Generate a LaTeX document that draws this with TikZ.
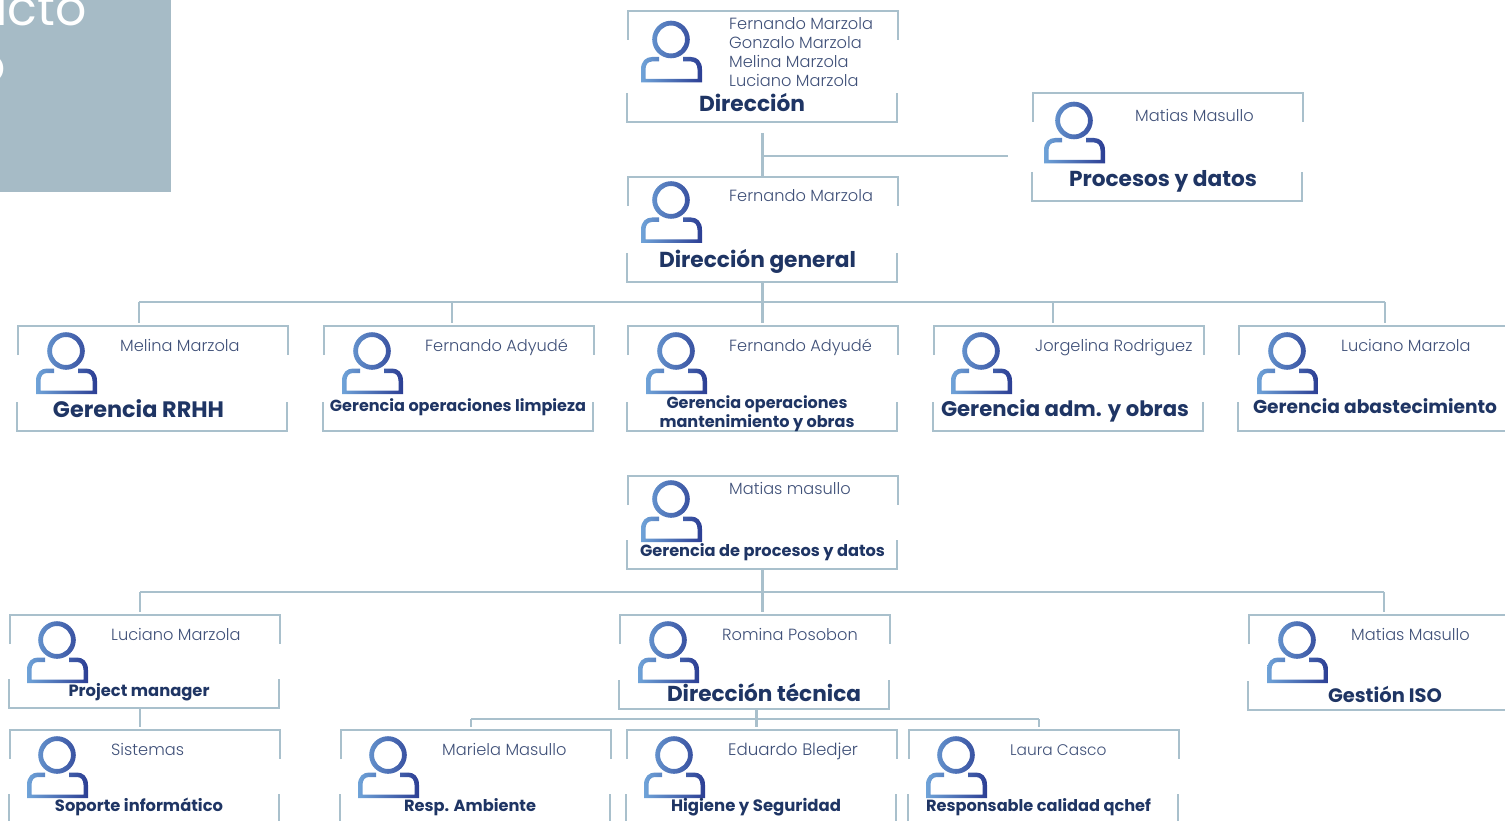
\documentclass[tikz,border=0pt]{standalone}
\usepackage{fontspec}
\setmainfont{Poppins}[UprightFont=* Light,BoldFont=* Bold]
\newfontfamily\panelfont{Poppins}
\definecolor{framec}{HTML}{A9C0CC}
\definecolor{panelc}{HTML}{A6BBC6}
\definecolor{namec}{HTML}{3F5078}
\definecolor{titlec}{HTML}{1F3564}
\definecolor{iconl}{HTML}{6FA3D8}
\definecolor{iconr}{HTML}{2C3E94}
\tikzset{
  x=1pt,y=-1pt,
  frameline/.style={draw=framec,line width=2.2pt},
  link/.style={draw=framec,line width=2.2pt},
  person/.style={font=\fontsize{16.2}{19}\selectfont,text=namec,anchor=base west,inner sep=0pt,align=left},
  titletext/.style={font=\fontsize{20}{24}\selectfont\bfseries,text=titlec,anchor=base,inner sep=0pt,align=center},
  paneltext/.style={font=\panelfont\fontsize{49}{49}\selectfont,text=white,anchor=base east,inner sep=0pt},
}
% #1 name, #2 left, #3 top, #4 top of lower part, #5 bottom, #6 icon x, #7 icon y
\newcommand{\orgbox}[7]{%
  \path (#2,#3) coordinate (#1-tl) (#2+269,#5) coordinate (#1-br);
  \draw[frameline] (#2,#3+29) -- (#2,#3) -- (#2+270,#3) -- (#2+270,#3+29);
  \draw[frameline] (#2-1,#4) -- (#2-1,#5) -- (#2+269,#5) -- (#2+269,#4);
  \begin{scope}[shift={(#6,#7)}]
    \shade[left color=iconl,right color=iconr,even odd rule]
      (0,0) circle[radius=18.8] (0,0) circle[radius=14]
      (-30,43) -- (-30,30) .. controls (-30,21.5) and (-25,17.5) .. (-19,17.5) -- (-12,17.5) -- (-12,22) -- (-19,22)
      .. controls (-23,22) and (-25.5,25) .. (-25.5,30) -- (-25.5,39.5) -- (26.5,39.5) -- (26.5,30)
      .. controls (26.5,25) and (24,22) .. (20,22) -- (12,22) -- (12,17.5) -- (20,17.5)
      .. controls (26,17.5) and (31,21.5) .. (31,30) -- (31,43) -- cycle;
  \end{scope}
}
% #1 name, #2 centre x, #3 baseline y, #4 width, #5 text
\newcommand{\boxtitle}[5]{\node[titletext] (#1) at (#2,#3) {\resizebox{#4pt}{!}{#5}};}
\begin{document}
\begin{tikzpicture}
\useasboundingbox (0,0) rectangle (1505,821);
\clip (0,0) rectangle (1505,821);
\fill[panelc] (0,0) rectangle (171,192);
\node[paneltext] (paneltop) at (87,26) {ucto};
\node[paneltext] (panelbot) at (6,83) {o};

\orgbox{dir}{628}{11}{93}{122}{671}{39.5}
\orgbox{pro}{1033}{93}{172}{201}{1074}{120.5}
\orgbox{gen}{628}{177}{253}{282}{671}{200}
\orgbox{rrhh}{18}{326}{402}{431}{66}{351}
\orgbox{lim}{324}{326}{402}{431}{372}{351}
\orgbox{man}{628}{326}{402}{431}{676}{351}
\orgbox{adm}{934}{326}{402}{431}{981}{351}
\orgbox{aba}{1239}{326}{402}{431}{1287}{351}
\orgbox{gpd}{628}{476}{540}{569}{671}{499}
\orgbox{pm}{10}{615}{679}{708}{57}{640}
\orgbox{dte}{620}{615}{680}{709}{668}{640}
\orgbox{iso}{1249}{615}{681}{710}{1297}{640}
\orgbox{sop}{10}{730}{794}{830}{57}{755}
\orgbox{amb}{341}{730}{794}{830}{388}{755}
\orgbox{hig}{627}{730}{794}{830}{674}{755}
\orgbox{cal}{909}{730}{794}{830}{956}{755}

% connectors
\coordinate (dirstem) at (762.5,133);
\coordinate (probranch) at (762.5,156);
\coordinate (proend) at (1008,156);
\coordinate (bus1) at (762.5,302);
\coordinate (bus1l) at (139,302);
\coordinate (bus1b) at (452,302);
\coordinate (bus1d) at (1053,302);
\coordinate (bus1r) at (1385,302);
\coordinate (bus2) at (762.5,592);
\coordinate (bus2l) at (140,592);
\coordinate (bus2r) at (1384,592);
\coordinate (bus3) at (756.5,719);
\coordinate (bus3l) at (471,719);
\coordinate (bus3r) at (1039,719);
\draw[link] (dirstem) -- (dirstem |- gen-tl);
\draw[link] (probranch) -- (proend);
\draw[link] (bus1 |- gen-br) -- (bus1);
\draw[link] (bus1l) -- (bus1r);
\foreach \c in {bus1l,bus1b,bus1,bus1d,bus1r} \draw[link] (\c) -- ([yshift=3.5pt]\c |- rrhh-tl);
\draw[link] (bus2 |- gpd-br) -- (bus2);
\draw[link] (bus2l) -- (bus2r);
\foreach \c in {bus2l,bus2,bus2r} \draw[link] (\c) -- ([yshift=3pt]\c |- pm-tl);
\draw[link] (140,0 |- pm-br) -- ([yshift=3pt]140,0 |- sop-tl);
\draw[link] (bus3 |- dte-br) -- (bus3);
\draw[link] (bus3l) -- (bus3r);
\foreach \c in {bus3l,bus3,bus3r} \draw[link] (\c) -- ([yshift=3pt]\c |- sop-tl);

% names
\node[person,anchor=north west] (n1) at (729,17.5) {Fernando Marzola\\Gonzalo Marzola\\Melina Marzola\\Luciano Marzola};
\node[person] (n2) at (1135,122) {Matias Masullo};
\node[person] (n3) at (729,202) {Fernando Marzola};
\node[person] (n4) at (120,351) {Melina Marzola};
\node[person] (n5) at (425,351) {Fernando Adyudé};
\node[person] (n6) at (729,351) {Fernando Adyudé};
\node[person] (n7) at (1035,351) {Jorgelina Rodriguez};
\node[person] (n8) at (1341,351) {Luciano Marzola};
\node[person] (n9) at (729,494) {Matias masullo};
\node[person] (n10) at (111,640) {Luciano Marzola};
\node[person] (n11) at (722,640) {Romina Posobon};
\node[person] (n12) at (1351,640) {Matias Masullo};
\node[person] (n13) at (111,755) {Sistemas};
\node[person] (n14) at (442,755) {Mariela Masullo};
\node[person] (n15) at (728,755) {\scalebox{1.03}{Eduardo Bledjer}};
\node[person] (n16) at (1010,755) {\scalebox{0.95}{Laura Casco}};

% titles
\boxtitle{t1}{752}{112}{106}{Dirección}
\boxtitle{t2}{1163}{187}{188}{Procesos y datos}
\boxtitle{t3}{757.5}{267}{197}{Dirección general}
\boxtitle{t4}{138.5}{417}{171}{Gerencia RRHH}
\boxtitle{t5}{458}{411}{256}{Gerencia operaciones limpieza}
\boxtitle{t6a}{757}{408}{181}{Gerencia operaciones}
\boxtitle{t6b}{757}{427}{195}{mantenimiento y obras}
\boxtitle{t7}{1065}{416}{248}{Gerencia adm. y obras}
\boxtitle{t8}{1375}{413}{244}{Gerencia abastecimiento}
\boxtitle{t9}{762.5}{556}{245}{Gerencia de procesos y datos}
\boxtitle{t10}{139}{696}{141}{Project manager}
\boxtitle{t11}{764}{701}{194}{Dirección técnica}
\boxtitle{t12}{1385}{702}{114}{Gestión ISO}
\boxtitle{t13}{139}{811}{168}{Soporte informático}
\boxtitle{t14}{470}{811}{132}{Resp. Ambiente}
\boxtitle{t15}{756}{811}{170}{Higiene y Seguridad}
\boxtitle{t16}{1038.5}{811}{225}{Responsable calidad qchef}
\end{tikzpicture}
\end{document}
